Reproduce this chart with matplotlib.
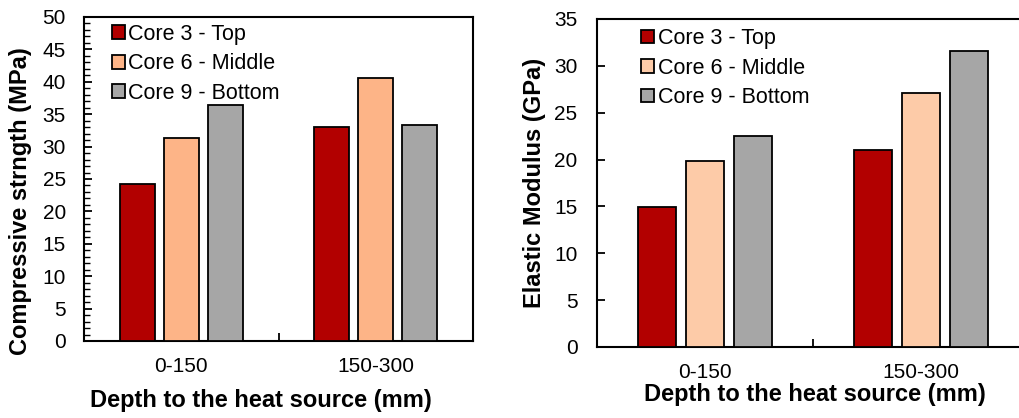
import numpy as np
import matplotlib.pyplot as plt
from matplotlib.ticker import MultipleLocator, FixedLocator, NullFormatter

plt.rcParams['font.family'] = ['Liberation Sans', 'DejaVu Sans']

# data
depths = ["0-150", "150-300"]
series = ["Core 3 - Top", "Core 6 - Middle", "Core 9 - Bottom"]
strength = [[24.3, 33.0],   # Core 3
            [31.4, 40.6],   # Core 6
            [36.4, 33.3]]   # Core 9
modulus = [[14.9, 21.0],
           [19.8, 27.1],
           [22.5, 31.6]]

RED = "#B20000"
GRAY = "#A6A6A6"
colors_left = [RED, "#FDB487", GRAY]
colors_right = [RED, "#FDCBA8", GRAY]

W, H = 1019, 418
fig = plt.figure(figsize=(W / 100, H / 100), dpi=100)

def px(x0, y_top, w, h):
    return [x0 / W, 1 - (y_top + h) / H, w / W, h / H]

ax1 = fig.add_axes(px(84, 17, 389, 324))
ax2 = fig.add_axes(px(597, 19, 432, 328))

def draw(ax, data, colors, width, step, ymax, minor, ypad):
    x = np.arange(len(depths))
    for k, (vals, c, lab) in enumerate(zip(data, colors, series)):
        ax.bar(x + (k - 1) * step, vals, width, color=c, edgecolor="black",
               linewidth=1.3, label=lab, zorder=3)
    ax.set_xlim(-0.5, 1.5)
    ax.set_ylim(0, ymax)
    ax.yaxis.set_major_locator(MultipleLocator(5))
    if minor:
        ax.yaxis.set_minor_locator(MultipleLocator(1))
        ax.tick_params(axis="y", which="minor", direction="in", length=4, width=1)
    ax.tick_params(axis="y", which="major", direction="in", length=6, width=1.3,
                   labelsize=15, pad=ypad)
    # category labels without ticks; one divider tick between groups
    ax.xaxis.set_major_locator(FixedLocator([0.5]))
    ax.xaxis.set_major_formatter(NullFormatter())
    ax.tick_params(axis="x", which="major", direction="in", length=6, width=1.3)
    for xi, d in zip(x, depths):
        ax.annotate(d, (xi, 0), xycoords=("data", "axes fraction"),
                    xytext=(0, -18.5), textcoords="offset points",
                    ha="center", va="center", fontsize=15)
    for s in ax.spines.values():
        s.set_linewidth(1.5)
    leg = ax.legend(loc="upper left", frameon=False, fontsize=15.5,
                    handlelength=0.6, handleheight=0.6, handletextpad=0.15,
                    labelspacing=0.39, borderaxespad=0.0, borderpad=0.2)
    return leg

leg1 = draw(ax1, strength, colors_left, 0.18, 0.226, 50, True, 13)
leg1.set_bbox_to_anchor((0.06, 0.992), transform=ax1.transAxes)
leg2 = draw(ax2, modulus, colors_right, 0.173, 0.222, 35, False, 14)
leg2.set_bbox_to_anchor((0.093, 0.985), transform=ax2.transAxes)

ax1.set_ylabel("Compressive strngth (MPa)", fontsize=17, fontweight="bold")
ax1.yaxis.set_label_coords(21 / W, 1 - 201 / H, transform=fig.transFigure)
ax1.set_xlabel("Depth to the heat source (mm)", fontsize=17, fontweight="bold")
ax1.xaxis.set_label_coords(261 / W, 1 - 400 / H, transform=fig.transFigure)

ax2.set_ylabel("Elastic Modulus (GPa)", fontsize=17, fontweight="bold")
ax2.yaxis.set_label_coords(534 / W, 1 - 183 / H, transform=fig.transFigure)
ax2.set_xlabel("Depth to the heat source (mm)", fontsize=17, fontweight="bold")
ax2.xaxis.set_label_coords(815 / W, 1 - 395 / H, transform=fig.transFigure)
for a in (ax1, ax2):
    a.xaxis.label.set_va("center")
    a.yaxis.label.set_va("center")

fig.savefig("out.png", dpi=100)
